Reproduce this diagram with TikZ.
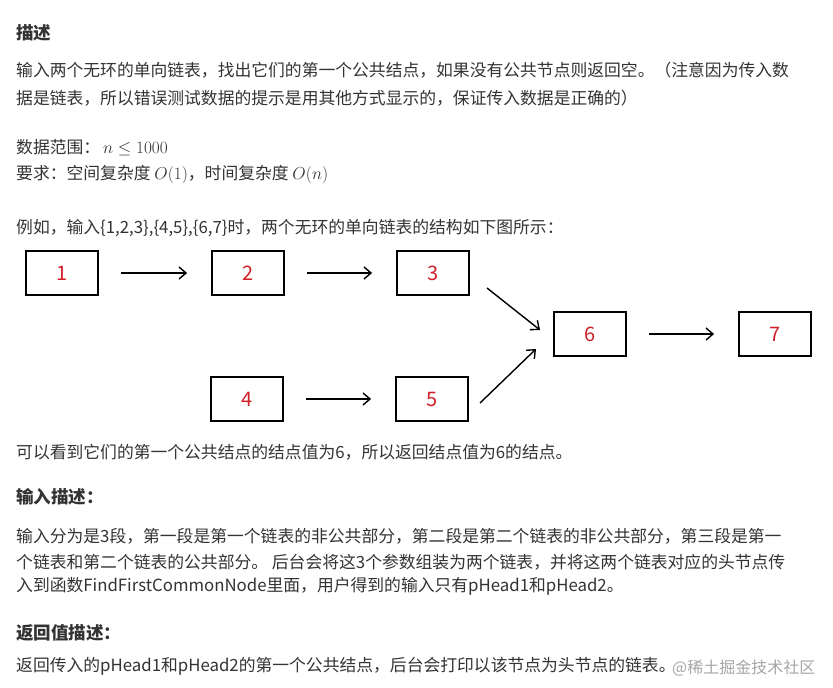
\documentclass[tikz,border=0pt]{standalone}
\usepackage{fontspec}
\setmainfont{Noto Sans CJK SC}
\usetikzlibrary{arrows.meta}
\definecolor{txt}{HTML}{333333}
\definecolor{num}{HTML}{D0202A}
\tikzset{
 t/.style={anchor=west,inner sep=0pt,text=txt,font=\fontsize{16.8}{19}\selectfont},
 h/.style={t,font=\fontsize{17.5}{20}\selectfont\bfseries},
 box/.style={draw=black,line width=1.8pt,minimum width=72pt,minimum height=44pt,text=num,font=\fontsize{20}{22}\selectfont},
 arr/.style={-{Straight Barb[length=7pt,width=12pt,line width=1.4pt]},line width=1.4pt},
}
\begin{document}
\begin{tikzpicture}[x=1pt,y=-1pt]
\useasboundingbox[fill=white] (0,0) rectangle (833,688);
\node[h] (ti) at (16,33) {描述};
\node[t] (l1) at (16,70) {输入两个无环的单向链表，找出它们的第一个公共结点，如果没有公共节点则返回空。（注意因为传入数};
\node[t] (l2) at (16,98) {据是链表，所以错误测试数据的提示是用其他方式显示的，保证传入数据是正确的）};
\node[t] (l3) at (16,148) {数据范围：\,$n\le 1000$};
\node[t] (l4) at (16,175) {要求：空间复杂度 $O(1)$，时间复杂度 $O(n)$};
\node[t] (l5) at (16,228) {例如，输入\{1,2,3\},\{4,5\},\{6,7\}时，两个无环的单向链表的结构如下图所示：};
\node[box] (n1) at (62,273) {1};
\node[box] (n2) at (248,273) {2};
\node[box] (n3) at (433,273) {3};
\node[box] (n6) at (590,334) {6};
\node[box] (n7) at (775,334) {7};
\node[box] (n4) at (247,399) {4};
\node[box] (n5) at (432,399) {5};
\draw[arr] ([xshift=22pt]n1.east) -- ([xshift=-24pt]n2.west);
\draw[arr] ([xshift=22pt]n2.east) -- ([xshift=-24pt]n3.west);
\draw[arr] ([xshift=22pt]n4.east) -- ([xshift=-24pt]n5.west);
\draw[arr] ([xshift=22pt]n6.east) -- ([xshift=-24pt]n7.west);
\coordinate (a3) at (487,288);
\coordinate (a5) at (480,403);
\draw[arr] (a3) -- (540,330);
\draw[arr] (a5) -- (536,349);
\node[t] (p1) at (16,452) {可以看到它们的第一个公共结点的结点值为6，所以返回结点值为6的结点。};
\node[h] (h2) at (16,497) {输入描述：};
\node[t] (p2) at (16,536) {输入分为是3段，第一段是第一个链表的非公共部分，第二段是第二个链表的非公共部分，第三段是第一};
\node[t] (p3) at (16,562) {个链表和第二个链表的公共部分。 后台会将这3个参数组装为两个链表，并将这两个链表对应的头节点传};
\node[t] (p4) at (16,586) {入到函数FindFirstCommonNode里面，用户得到的输入只有pHead1和pHead2。};
\node[h] (h3) at (16,633) {返回值描述：};
\node[t] (p5) at (16,666) {返回传入的pHead1和pHead2的第一个公共结点，后台会打印以该节点为头节点的链表。};
\node[t,text=gray!70,font=\fontsize{16}{18}\selectfont] (wm) at (672,668) {@稀土掘金技术社区};
\end{tikzpicture}
\end{document}
